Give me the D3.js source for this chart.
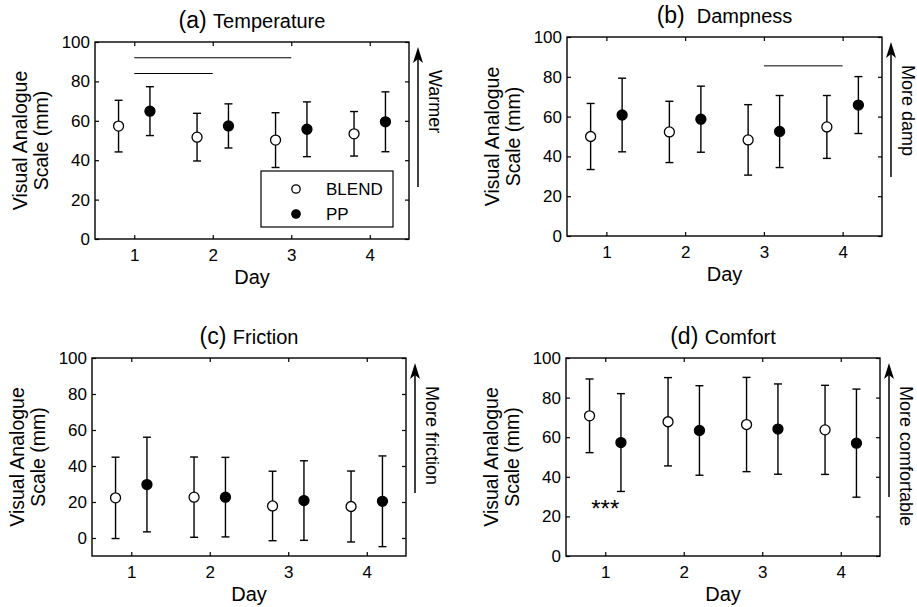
<!DOCTYPE html>
<html>
<head>
<meta charset="utf-8">
<script src="https://cdn.jsdelivr.net/npm/d3@7"></script>
<style>
body { margin: 0; background: #fff; }
svg { font-family: "Liberation Sans", Arial, sans-serif; }
</style>
</head>
<body>
<script>
// Datos (media y desvío, en mm)
var DIAS = [1, 2, 3, 4];
var Y_TICKS = [0, 20, 40, 60, 80, 100];
var SERIES = ["BLEND", "PP"];

var TEMP_BLEND = [57.3, 51.7, 50.2, 53.4];
var TEMP_BLEND_SD = [13.1, 12.1, 13.9, 11.3];
var TEMP_PP = [64.9, 57.4, 55.7, 59.5];
var TEMP_PP_SD = [12.4, 11.2, 13.9, 15.2];

var DAMP_BLEND = [50.0, 52.3, 48.3, 54.8];
var DAMP_BLEND_SD = [16.6, 15.4, 17.7, 15.8];
var DAMP_PP = [60.8, 58.7, 52.5, 65.8];
var DAMP_PP_SD = [18.5, 16.6, 18.1, 14.3];

var FRIC_BLEND = [22.3, 22.7, 17.8, 17.5];
var FRIC_BLEND_SD = [22.6, 22.3, 19.3, 19.7];
var FRIC_PP = [29.7, 22.7, 20.8, 20.4];
var FRIC_PP_SD = [26.3, 22.1, 22.1, 25.2];

var COMF_BLEND = [70.8, 67.8, 66.4, 63.7];
var COMF_BLEND_SD = [18.6, 22.3, 23.8, 22.5];
var COMF_PP = [57.3, 63.4, 64.1, 57.0];
var COMF_PP_SD = [24.7, 22.6, 22.8, 27.3];

// líneas de significancia: [desde día, hasta día, valor]
var TEMP_SIG = [[1, 3, 92], [1, 2, 84]];
var DAMP_SIG = [[3, 4, 85.5]];
// marcas de texto: [día, valor, texto]
var COMF_MARKS = [[1, 27, "***"]];

var w = 917;
var h = 607;

var panels = [
  { letra: "(a)", titulo: "Temperature", flecha: "Warmer", blend: TEMP_BLEND, blendSd: TEMP_BLEND_SD, pp: TEMP_PP, ppSd: TEMP_PP_SD,
    box: { left: 95, right: 409, top: 42, bottom: 239 }, yMin: 0, arrowLen: 140, legend: true, sig: TEMP_SIG, marks: [] },
  { letra: "(b)", titulo: "\u00a0Dampness", flecha: "More damp", blend: DAMP_BLEND, blendSd: DAMP_BLEND_SD, pp: DAMP_PP, ppSd: DAMP_PP_SD,
    box: { left: 567, right: 882, top: 37, bottom: 236 }, yMin: 0, arrowLen: 135, legend: false, sig: DAMP_SIG, marks: [] },
  { letra: "(c)", titulo: "Friction", flecha: "More friction", blend: FRIC_BLEND, blendSd: FRIC_BLEND_SD, pp: FRIC_PP, ppSd: FRIC_PP_SD,
    box: { left: 92, right: 406, top: 358, bottom: 556 }, yMin: -10, arrowLen: 130, legend: false, sig: [], marks: [] },
  { letra: "(d)", titulo: "Comfort", flecha: "More comfortable", blend: COMF_BLEND, blendSd: COMF_BLEND_SD, pp: COMF_PP, ppSd: COMF_PP_SD,
    box: { left: 566, right: 880, top: 358, bottom: 556 }, yMin: 0, arrowLen: 134, legend: false, sig: [], marks: COMF_MARKS }
];

var svg = d3.select("body").append("svg").attr("width", w).attr("height", h);

panels.forEach(function (p) {
  var b = p.box;
  var x = d3.scaleLinear().domain([0.5, 4.5]).range([b.left, b.right]);
  var y = d3.scaleLinear().domain([p.yMin, 100]).range([b.bottom, b.top]);
  var g = svg.append("g");

  // ejes con ticks hacia adentro, estilo caja
  var ejeX = g.append("g").attr("transform", "translate(0," + b.bottom + ")")
    .call(d3.axisBottom(x).tickValues(DIAS).tickFormat(d3.format("d")).tickSizeInner(-4).tickSizeOuter(0).tickPadding(10));
  var ejeXTop = g.append("g").attr("transform", "translate(0," + b.top + ")")
    .call(d3.axisTop(x).tickValues(DIAS).tickFormat("").tickSizeInner(-4).tickSizeOuter(0));
  var ejeY = g.append("g").attr("transform", "translate(" + b.left + ",0)")
    .call(d3.axisLeft(y).tickValues(Y_TICKS).tickSizeInner(-4).tickSizeOuter(0).tickPadding(5));
  var ejeYRight = g.append("g").attr("transform", "translate(" + b.right + ",0)")
    .call(d3.axisRight(y).tickValues(Y_TICKS).tickFormat("").tickSizeInner(-4).tickSizeOuter(0));
  [ejeX, ejeXTop, ejeY, ejeYRight].forEach(function (e) {
    e.select(".domain").remove();
    e.selectAll("line").attr("stroke", "#000").attr("stroke-width", 1.2);
    e.selectAll("text").attr("font-size", 17).attr("fill", "#000").attr("font-family", "Liberation Sans, Arial, sans-serif");
  });

  g.append("rect").attr("x", b.left).attr("y", b.top).attr("width", b.right - b.left).attr("height", b.bottom - b.top)
    .attr("fill", "none").attr("stroke", "#000").attr("stroke-width", 1.4);

  // líneas de significancia
  g.selectAll(".sig").data(p.sig).enter().append("line").attr("class", "sig")
    .attr("x1", function (d) { return x(d[0]); }).attr("x2", function (d) { return x(d[1]); })
    .attr("y1", function (d) { return y(d[2]); }).attr("y2", function (d) { return y(d[2]); })
    .attr("stroke", "#000").attr("stroke-width", 1);

  g.selectAll(".mark").data(p.marks).enter().append("text").attr("class", "mark")
    .attr("x", function (d) { return x(d[0]); }).attr("y", function (d) { return y(d[1]); })
    .attr("dy", "0.6em").attr("text-anchor", "middle").attr("font-size", 24).text(function (d) { return d[2]; });

  // series con barras de error
  var series = [
    { name: "BLEND", vals: p.blend, sd: p.blendSd, off: -0.2, fill: "#fff" },
    { name: "PP", vals: p.pp, sd: p.ppSd, off: 0.2, fill: "#000" }
  ];
  series.forEach(function (s) {
    var pts = DIAS.map(function (d, i) { return { day: d, m: s.vals[i], sd: s.sd[i] }; });
    var eg = g.append("g");
    eg.selectAll(".bar").data(pts).enter().append("line")
      .attr("x1", function (d) { return x(d.day + s.off); }).attr("x2", function (d) { return x(d.day + s.off); })
      .attr("y1", function (d) { return y(d.m - d.sd); }).attr("y2", function (d) { return y(d.m + d.sd); })
      .attr("stroke", "#000").attr("stroke-width", 1.4);
    [-1, 1].forEach(function (k) {
      eg.selectAll(".cap" + k).data(pts).enter().append("line")
        .attr("x1", function (d) { return x(d.day + s.off) - 4; }).attr("x2", function (d) { return x(d.day + s.off) + 4; })
        .attr("y1", function (d) { return y(d.m + k * d.sd); }).attr("y2", function (d) { return y(d.m + k * d.sd); })
        .attr("stroke", "#000").attr("stroke-width", 1.4);
    });
    eg.selectAll("circle").data(pts).enter().append("circle")
      .attr("cx", function (d) { return x(d.day + s.off); }).attr("cy", function (d) { return y(d.m); })
      .attr("r", 5).attr("fill", s.fill).attr("stroke", "#000").attr("stroke-width", 1.3);
  });

  // título
  var t = g.append("text").attr("x", (b.left + b.right) / 2).attr("y", b.top - 14).attr("text-anchor", "middle");
  t.append("tspan").attr("font-size", 23).text(p.letra + " ");
  t.append("tspan").attr("font-size", 20).text(p.titulo);

  // etiquetas de ejes
  g.append("text").attr("x", (b.left + b.right) / 2).attr("y", b.bottom + 45).attr("text-anchor", "middle")
    .attr("font-size", 20).text("Day");
  var cy = (b.top + b.bottom) / 2;
  g.append("text").attr("transform", "translate(" + (b.left - 75) + "," + cy + ") rotate(-90)")
    .attr("dy", "0.35em").attr("text-anchor", "middle").attr("font-size", 19.5).text("Visual Analogue");
  g.append("text").attr("transform", "translate(" + (b.left - 54) + "," + cy + ") rotate(-90)")
    .attr("dy", "0.35em").attr("text-anchor", "middle").attr("font-size", 19.5).text("Scale (mm)");

  // flecha de dirección
  var ax = b.right + 9;
  var aTop = b.top + 5;
  g.append("line").attr("x1", ax).attr("x2", ax).attr("y1", aTop + 8).attr("y2", aTop + p.arrowLen)
    .attr("stroke", "#000").attr("stroke-width", 1.5);
  g.append("path").attr("d", "M" + ax + "," + aTop + "L" + (ax - 5) + "," + (aTop + 16) + "L" + ax + "," + (aTop + 12) + "L" + (ax + 5) + "," + (aTop + 16) + "Z")
    .attr("fill", "#000");
  g.append("text").attr("transform", "translate(" + (b.right + 26) + "," + (b.top + 28) + ") rotate(90)")
    .attr("dy", "0.35em").attr("font-size", 18).text(p.flecha);

  // leyenda
  if (p.legend) {
    var lx = b.left + 166, ly = b.bottom - 68;
    var lg = g.append("g");
    lg.append("rect").attr("x", lx).attr("y", ly).attr("width", 132).attr("height", 56)
      .attr("fill", "#fff").attr("stroke", "#000").attr("stroke-width", 1.2);
    SERIES.forEach(function (nombre, i) {
      var yy = ly + 18 + i * 25;
      lg.append("circle").attr("cx", lx + 35).attr("cy", yy).attr("r", 4.2)
        .attr("fill", i === 0 ? "#fff" : "#000").attr("stroke", "#000").attr("stroke-width", 1.3);
      lg.append("text").attr("x", lx + 65).attr("y", yy).attr("dy", "0.35em").attr("font-size", 17).text(nombre);
    });
  }
});
</script>
</body>
</html>
